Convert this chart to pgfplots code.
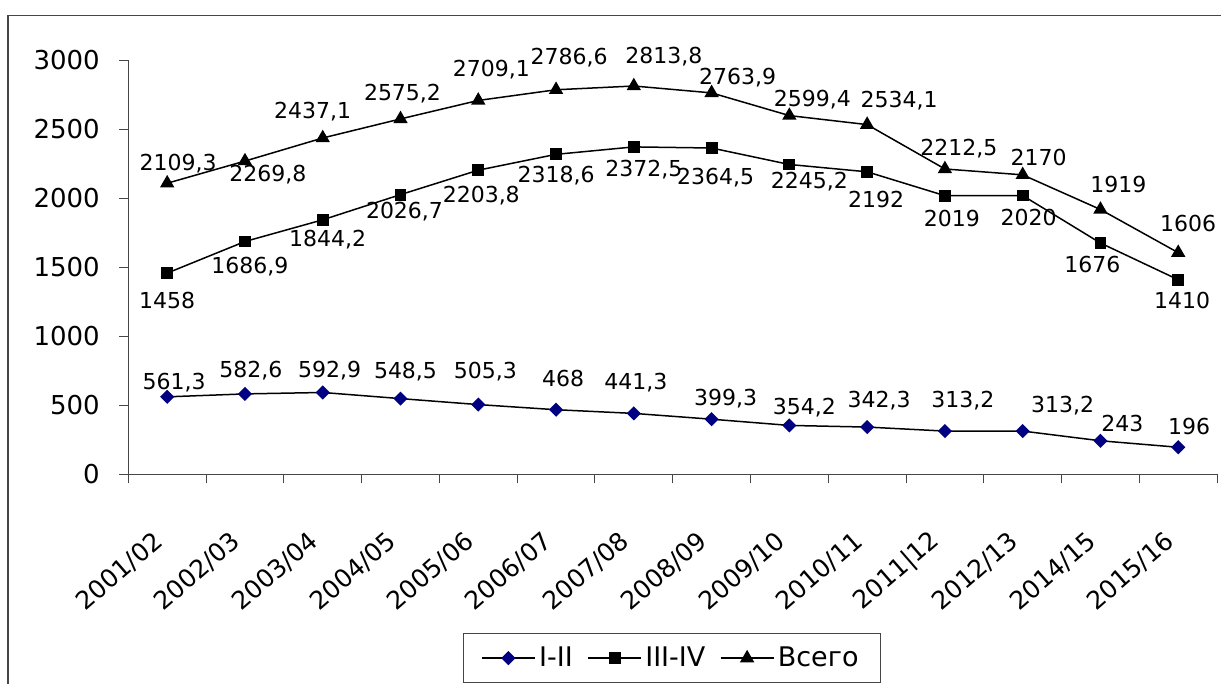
\documentclass[border=0pt]{standalone}
\usepackage{fontspec}
\setmainfont{DejaVu Sans}
\usepackage{pgfplots}
\usepackage{pgfplotstable}
\pgfplotsset{compat=1.18}
\definecolor{diamblue}{RGB}{0,0,128}
\definecolor{axgray}{RGB}{70,70,70}

% x y label, label offset in px (dx, dy)
\pgfplotstableread{
x y lab dx dy
0 561.3 561,3 7 16
1 582.6 582,6 6 25
2 592.9 592,9 7 23
3 548.5 548,5 5 28
4 505.3 505,3 7 34
5 468 468 7 31
6 441.3 441,3 2 32
7 399.3 399,3 14 22
8 354.2 354,2 15 19
9 342.3 342,3 12 28
10 313.2 313,2 18 32
11 313.2 313,2 40 27
12 243 243 22 17
13 196 196 11 21
}\tabA
\pgfplotstableread{
x y lab dx dy
0 1458 1458 0 -27
1 1686.9 1686,9 5 -24
2 1844.2 1844,2 5 -19
3 2026.7 2026,7 4 -16
4 2203.8 2203,8 3 -24
5 2318.6 2318,6 0 -20
6 2372.5 2372,5 10 -21
7 2364.5 2364,5 4 -28
8 2245.2 2245,2 20 -16
9 2192 2192 9 -28
10 2019 2019 7 -23
11 2020 2020 6 -22
12 1676 1676 -8 -21
13 1410 1410 4 -21
}\tabB
\pgfplotstableread{
x y lab dx dy
0 2109.3 2109,3 11 21
1 2269.8 2269,8 23 -12
2 2437.1 2437,1 -10 28
3 2575.2 2575,2 2 27
4 2709.1 2709,1 13 32
5 2786.6 2786,6 13 33
6 2813.8 2813,8 30 31
7 2763.9 2763,9 26 17
8 2599.4 2599,4 23 17
9 2534.1 2534,1 32 25
10 2212.5 2212,5 14 22
11 2170 2170 16 18
12 1919 1919 18 25
13 1606 1606 10 29
}\tabC

\begin{document}
\begin{tikzpicture}
\draw[axgray, line width=0.6pt] (4pt,-7.75pt) rectangle (640pt,-360pt);
\begin{axis}[
    at={(64.15pt,-237.15pt)}, anchor=south west,
    scale only axis, width=544.4pt, height=207pt,
    xmin=-0.5, xmax=13.5, ymin=0, ymax=3000,
    axis lines=left,
    axis line style={-, draw=axgray, line width=0.5pt},
    tick align=outside,
    major tick length=4.5pt, minor tick length=4.5pt,
    tick style={axgray, line width=0.5pt},
    every major x tick/.append style={draw=none},
    xtick={0,...,13},
    minor xtick={-0.5,0.5,...,13.5},
    xticklabels={2001/02,2002/03,2003/04,2004/05,2005/06,2006/07,2007/08,2008/09,2009/10,2010/11,2011|12,2012/13,2014/15,2015/16},
    x tick label style={font=\fontsize{12.5}{13}\selectfont, inner sep=0pt,
        xshift=-4pt, yshift=-27pt, rotate=41, anchor=east},
    ytick={0,500,...,3000},
    y tick label style={font=\fontsize{13}{14}\selectfont, inner sep=0pt, xshift=-9.6pt},
    /pgf/number format/1000 sep={},
    /pgf/number format/assume math mode=true,
    point meta=explicit symbolic,
    visualization depends on={\thisrow{dx} \as \dx},
    visualization depends on={\thisrow{dy} \as \dy},
    nodes near coords,
    every node near coord/.append style={anchor=center, inner sep=0pt, text depth=0pt,
        text=black, font=\fontsize{11}{12}\selectfont,
        xshift=\dx*0.5pt, yshift=\dy*0.5pt},
    legend columns=3,
    legend cell align=left,
    legend image code/.code={\draw[mark repeat=2,mark phase=2,#1] plot coordinates {(0pt,0pt) (13.25pt,0pt) (26.5pt,0pt)};},
    legend style={at={(0.499,-0.444)}, anchor=center, draw=axgray, line width=0.5pt,
        font=\fontsize{13.5}{15}\selectfont, inner xsep=9pt, inner ysep=5pt,
        nodes={inner sep=1.75pt},
        /tikz/every even column/.append style={column sep=5.5pt}},
]
\addplot[black, line width=0.75pt, mark=square*, mark size=2.12pt,
    mark options={fill=diamblue, draw=diamblue, rotate=45}]
    table[x=x, y=y, meta=lab] {\tabA};
\addplot[black, line width=0.75pt, mark=square*, mark size=2.6pt,
    mark options={fill=black}]
    table[x=x, y=y, meta=lab] {\tabB};
\addplot[black, line width=0.75pt, mark=triangle*, mark size=3.4pt,
    mark options={fill=black}]
    table[x=x, y=y, meta=lab] {\tabC};
\legend{I-II, III-IV, Всего}
\end{axis}
\pgfresetboundingbox
\useasboundingbox (0,0) rectangle (610.5pt,-342pt);
\end{tikzpicture}
\end{document}
